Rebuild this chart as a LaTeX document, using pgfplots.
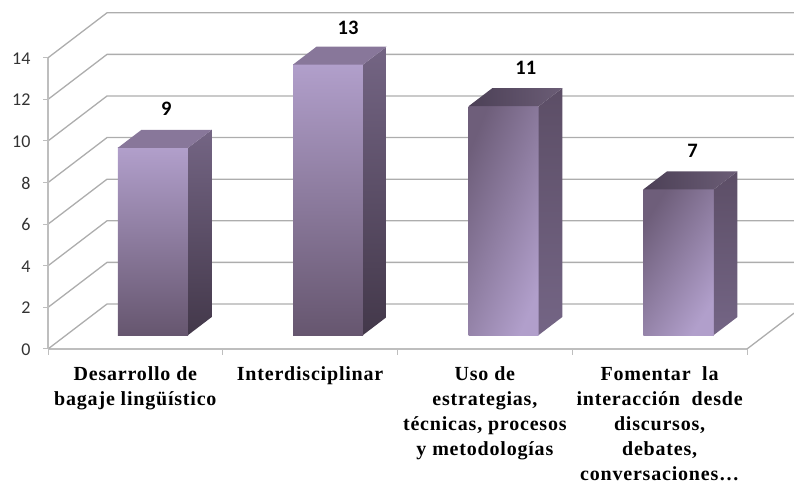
\documentclass[border=0pt]{standalone}
\usepackage{fontspec}
\setmainfont{Carlito}
\newfontfamily\serifb{Liberation Serif}[BoldFont={Liberation Serif Bold},LetterSpace=4]
\usepackage{pgfplots}
\pgfplotsset{compat=1.18}
\definecolor{gridc}{HTML}{ADADAD}
\definecolor{axisc}{HTML}{BEBEBE}
\definecolor{lt}{HTML}{B19FCB}
\definecolor{dk}{HTML}{66566F}
\definecolor{sdA}{HTML}{746584}
\definecolor{sdB}{HTML}{43384A}
\definecolor{tpA}{HTML}{88779A}
\definecolor{dA}{HTML}{6E5E7A}
\definecolor{sdC}{HTML}{5C4E66}
\definecolor{sdD}{HTML}{746585}
\definecolor{tpB}{HTML}{4C4056}
\definecolor{tpC}{HTML}{6B5D76}
\begin{document}
\begin{tikzpicture}[x=1pt,y=1pt]
\path[use as bounding box] (0,0) rectangle (794,486);
\begin{axis}[
  at={(48pt,137pt)}, anchor=origin,
  x={(174.75pt,0pt)}, y={(59pt,45pt)}, z={(0pt,20.8pt)},
  xmin=0, xmax=4, ymin=0, ymax=1, zmin=0, zmax=14,
  clip=false,
  axis lines=left,
  axis line style={axisc, line width=1.3pt, -},
  y axis line style={draw=none},
  xtick={0.5,1.5,2.5,3.5},
  ytick=\empty,
  ztick={0,2,...,14},
  major tick length=0pt,
  tick style={draw=none},
  /pgf/number format/assume math mode=true,
  zticklabel style={font=\fontsize{18}{20}\selectfont, text=black!80, anchor=east, xshift=-14pt, yshift=-0.5pt},
  xticklabels={{Desarrollo de\\bagaje lingüístico},{Interdisciplinar},{Uso de\\estrategias,\\técnicas, procesos\\y metodologías},{Fomentar\ \ la\\interacción\ \ desde\\discursos,\\debates,\\conversaciones\dots}},
  xticklabel style={font=\serifb\bfseries\fontsize{20}{25}\selectfont, align=center, anchor=north, yshift=-14pt, text=black},
]
% walls
\addplot3[gridc, line width=1.3pt] coordinates {(0,0,14) (0,1,14) (3.931,1,14)};
\addplot3[gridc, line width=1.3pt] coordinates {(0,0,12) (0,1,12) (3.931,1,12)};
\addplot3[gridc, line width=1.3pt] coordinates {(0,0,10) (0,1,10) (3.931,1,10)};
\addplot3[gridc, line width=1.3pt] coordinates {(0,0,8) (0,1,8) (3.931,1,8)};
\addplot3[gridc, line width=1.3pt] coordinates {(0,0,6) (0,1,6) (3.931,1,6)};
\addplot3[gridc, line width=1.3pt] coordinates {(0,0,4) (0,1,4) (3.931,1,4)};
\addplot3[gridc, line width=1.3pt] coordinates {(0,0,2) (0,1,2) (3.931,1,2)};
\addplot3[gridc, line width=1.3pt] coordinates {(0,0,0) (0,1,0) (3.931,1,0)};
\addplot3[gridc, line width=1.3pt] coordinates {(4,0,0) (4,0.797,0)};
\addplot3[axisc, line width=1.3pt] coordinates {(0,0,0) (0,0,14)};
% tick marks, straight left and straight down
\foreach \v in {0,2,...,14} {\edef\tmp{\noexpand\draw[axisc, line width=1pt] (axis cs:0,0,\v) -- ++(-5pt,0pt);}\tmp}
\foreach \v in {0,1,2,3,4} {\edef\tmp{\noexpand\draw[axisc, line width=1pt] (axis cs:\v,0,0) -- ++(0pt,-6pt);}\tmp}
% bar 1
\addplot3[draw=none, top color=lt, bottom color=dk] coordinates {(0.295,0.311,0) (0.697,0.311,0) (0.697,0.311,9) (0.295,0.311,9)} --cycle;
\addplot3[draw=none, top color=sdA, bottom color=sdB] coordinates {(0.697,0.311,0) (0.697,0.711,0) (0.697,0.711,9) (0.697,0.311,9)} --cycle;
\addplot3[draw=none, fill=tpA] coordinates {(0.295,0.311,9) (0.697,0.311,9) (0.697,0.711,9) (0.295,0.711,9)} --cycle;
% bar 2
\addplot3[draw=none, top color=lt, bottom color=dk] coordinates {(1.297,0.311,0) (1.698,0.311,0) (1.698,0.311,13) (1.297,0.311,13)} --cycle;
\addplot3[draw=none, top color=sdA, bottom color=sdB] coordinates {(1.698,0.311,0) (1.698,0.711,0) (1.698,0.711,13) (1.698,0.311,13)} --cycle;
\addplot3[draw=none, fill=tpA] coordinates {(1.297,0.311,13) (1.698,0.311,13) (1.698,0.711,13) (1.297,0.711,13)} --cycle;
% bar 3
\addplot3[draw=none, top color=dA, bottom color=lt, shading angle=68] coordinates {(2.302,0.311,0) (2.703,0.311,0) (2.703,0.311,11) (2.302,0.311,11)} --cycle;
\addplot3[draw=none, top color=sdC, bottom color=sdD] coordinates {(2.703,0.311,0) (2.703,0.711,0) (2.703,0.711,11) (2.703,0.311,11)} --cycle;
\addplot3[draw=none, left color=tpB, right color=tpC] coordinates {(2.302,0.311,11) (2.703,0.311,11) (2.703,0.711,11) (2.302,0.711,11)} --cycle;
% bar 4
\addplot3[draw=none, top color=dA, bottom color=lt, shading angle=58] coordinates {(3.302,0.311,0) (3.705,0.311,0) (3.705,0.311,7) (3.302,0.311,7)} --cycle;
\addplot3[draw=none, top color=sdC, bottom color=sdD] coordinates {(3.705,0.311,0) (3.705,0.711,0) (3.705,0.711,7) (3.705,0.311,7)} --cycle;
\addplot3[draw=none, left color=tpB, right color=tpC] coordinates {(3.302,0.311,7) (3.705,0.311,7) (3.705,0.711,7) (3.302,0.711,7)} --cycle;
% value labels
\node[font=\bfseries\fontsize{20.5}{22}\selectfont, xshift=-11pt, yshift=21pt] at (axis cs:0.5,0.711,9) {9};
\node[font=\bfseries\fontsize{20.5}{22}\selectfont, xshift=-4pt, yshift=19pt] at (axis cs:1.5,0.711,13) {13};
\node[font=\bfseries\fontsize{20.5}{22}\selectfont, xshift=-1pt, yshift=20pt] at (axis cs:2.5,0.711,11) {11};
\node[font=\bfseries\fontsize{20.5}{22}\selectfont, xshift=-9pt, yshift=21pt] at (axis cs:3.5,0.711,7) {7};
\end{axis}
\end{tikzpicture}
\end{document}
